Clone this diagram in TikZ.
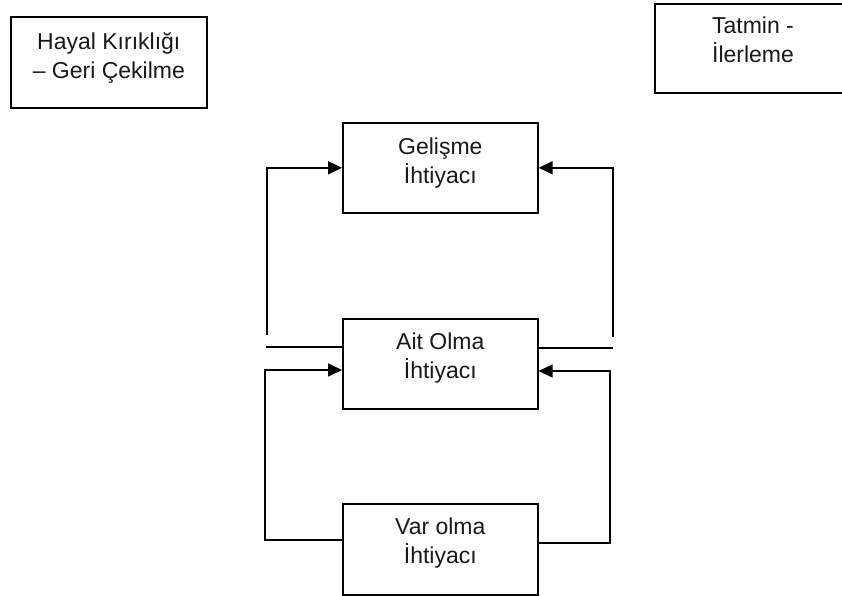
\documentclass[tikz,border=0pt]{standalone}
\usepackage{fontspec}
\setmainfont{Liberation Sans}
\usetikzlibrary{arrows.meta}
\begin{document}
\begin{tikzpicture}[x=1pt,y=-1pt,
  box/.style={draw=black,line width=1.6pt,minimum width=195pt,minimum height=90pt,inner sep=0pt,anchor=north west},
  label text/.style={anchor=north,inner sep=0pt,align=center,text=black!90,font=\fontsize{23}{29}\selectfont},
  link/.style={line width=1.6pt,draw=black},
  arrowlink/.style={link,-{Triangle[length=14pt,width=13pt]}}]
\useasboundingbox (0,0) rectangle (842,596);
% corner boxes
\node[box,minimum width=196pt,minimum height=91pt] (hayal) at (10,16) {};
\node[box,minimum width=200pt,minimum height=89pt] (tatmin) at (654,3) {};
\node[label text] (hayalt) at ([yshift=-16pt]hayal.north) {Hayal Kırıklığı\\– Geri Çekilme};
\node[label text] (tatmint) at (753,17) {Tatmin -\\İlerleme};
% need boxes
\node[box] (gel) at (342,122) {};
\node[box] (ait) at (342,318) {};
\node[box,minimum height=91pt] (var) at (342,503) {};
\node[label text] (gelt) at ([yshift=-16pt]gel.north) {Gelişme\\İhtiyacı};
\node[label text] (aitt) at ([yshift=-15pt]ait.north) {Ait Olma\\İhtiyacı};
\node[label text] (vart) at ([yshift=-15pt]var.north) {Var olma\\İhtiyacı};
% free ends of the connectors
\coordinate (gl) at (267,335);
\coordinate (gr) at (613,337);
\coordinate (al) at (266,347);
\coordinate (ar) at (613,348);
\coordinate (vl) at (265,540);
\coordinate (vr) at (610,543);
% upper loop: into Gelişme
\draw[arrowlink] (gl) |- (gel.west);
\draw[arrowlink] (gr) |- (gel.east);
\draw[link] (ait.west |- al) -- (al);
\draw[link] (ait.east |- ar) -- (ar);
% lower loop: Var olma into Ait Olma
\draw[arrowlink] (var.west |- vl) -- (vl) -- (vl |- 0,370) -- (ait.west |- 0,370);
\draw[arrowlink] (var.east |- vr) -- (vr) -- (vr |- 0,371) -- (ait.east |- 0,371);
\end{tikzpicture}
\end{document}
